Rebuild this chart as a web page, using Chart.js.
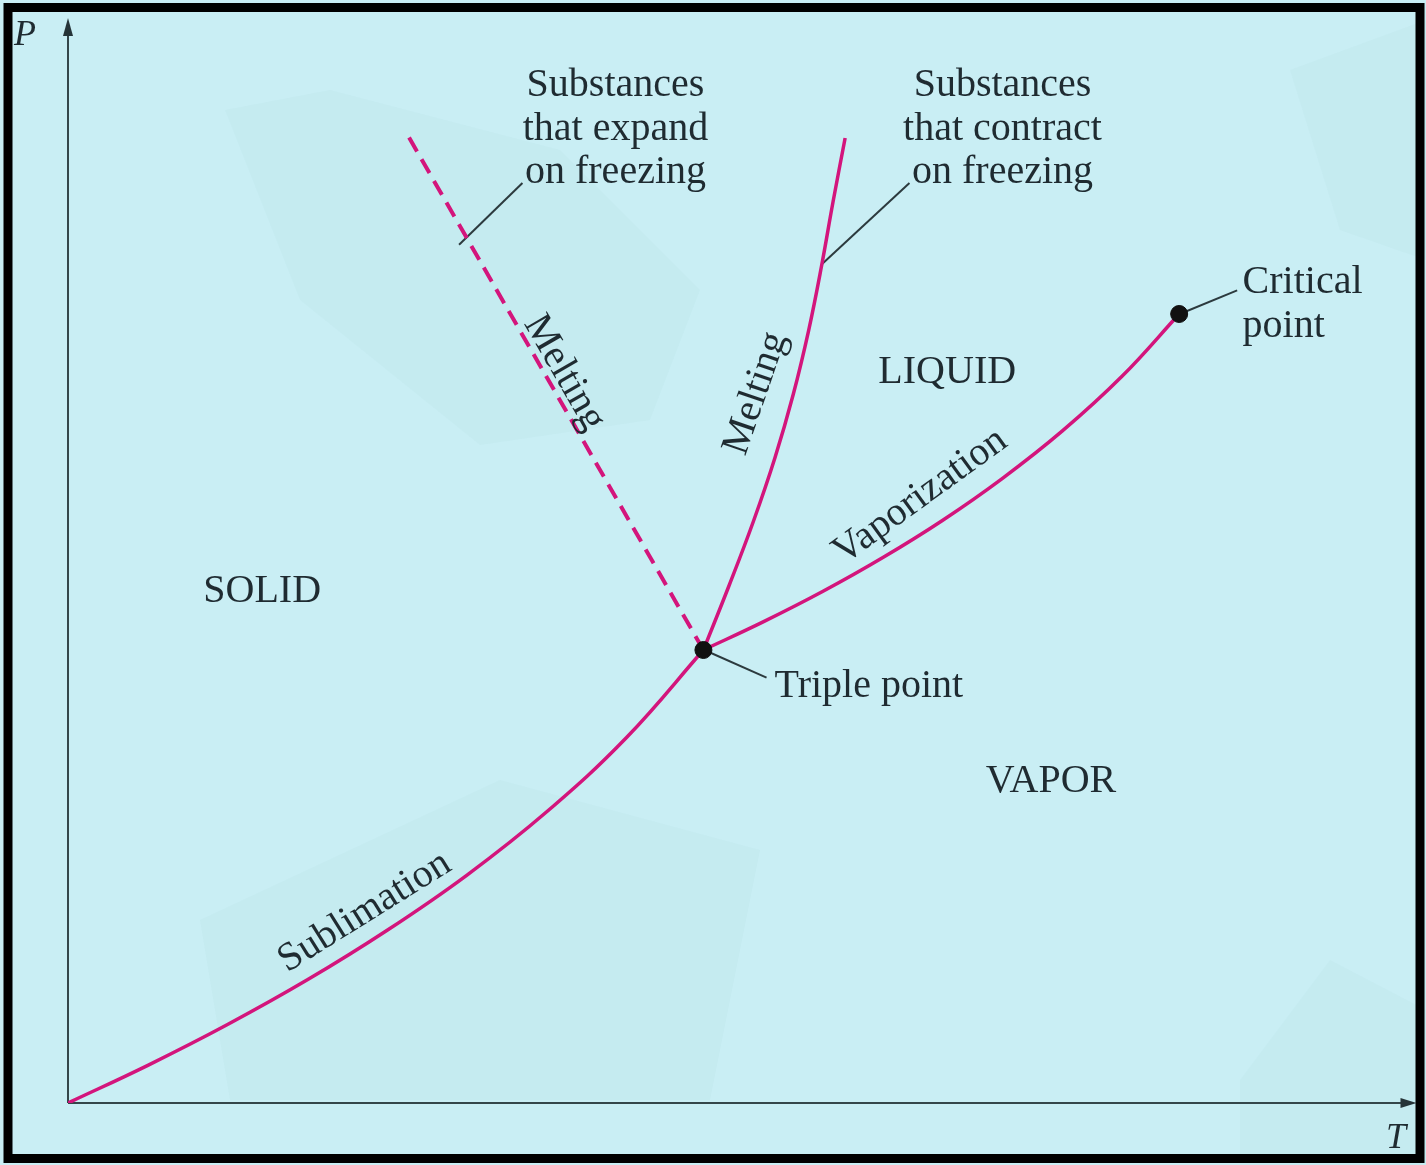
<!DOCTYPE html>
<html>
<head>
<meta charset="utf-8">
<script src="https://cdn.jsdelivr.net/npm/chart.js@4"></script>
<style>
  html, body { margin: 0; padding: 0; background: #c9eef4; }
  canvas { display: block; }
</style>
</head>
<body>
<canvas id="phase" width="1426" height="1165"></canvas>
<script>
// Phase diagram values (T, P in arbitrary units, axes run 0..100)
const sublimationT = [0, 5.92, 11.83, 17.75, 23.67, 29.59, 35.50, 41.42, 47.12];
const sublimationP = [0, 3.47, 7.23, 11.35, 15.92, 21.01, 26.84, 33.69, 41.75];

const meltingT = [47.12, 49.01, 50.81, 52.42, 53.79, 54.93, 55.88, 56.73, 57.63];
const meltingP = [41.75, 47.65, 53.55, 59.45, 65.35, 71.24, 77.14, 83.04, 88.94];

const meltingExpandT = [47.12, 25.1];
const meltingExpandP = [41.75, 89.4];

const vaporizationT = [47.12, 51.55, 55.99, 60.43, 64.87, 69.30, 73.74, 78.18, 82.40];
const vaporizationP = [41.75, 44.34, 47.16, 50.27, 53.71, 57.57, 61.94, 67.00, 72.72];

const specialT = [47.12, 82.40];   // triple point, critical point
const specialP = [41.75, 72.72];

// leader lines [fromT, fromP, toT, toP]
const leaders = [
    [29.0, 79.1, 33.7, 84.8],
    [55.9, 77.3, 62.4, 84.8],
    [82.4, 72.7, 86.7, 74.9],
    [47.1, 41.8, 51.8, 39.2],
];

const curveColor = '#d3157c';
const inkColor = '#1f2b31';
const font = '40px "Liberation Serif", "DejaVu Serif", serif';

const toPoints = (xs, ys) => xs.map((x, i) => ({ x: x, y: ys[i] }));

// text labels: [text, T, P, align]
const labels = [
    ['Substances', 40.6, 92.8, 'center'],
    ['that expand', 40.6, 88.8, 'center'],
    ['on freezing', 40.6, 84.8, 'center'],
    ['Substances', 69.3, 92.8, 'center'],
    ['that contract', 69.3, 88.8, 'center'],
    ['on freezing', 69.3, 84.8, 'center'],
    ['Critical', 87.1, 74.7, 'left'],
    ['point', 87.1, 70.6, 'left'],
    ['LIQUID', 65.2, 66.4, 'center'],
    ['SOLID', 14.4, 46.2, 'center'],
    ['VAPOR', 72.9, 28.7, 'center'],
    ['Triple point', 52.4, 37.4, 'left'],
];
// labels along the curves: [text, T, P, rotation in degrees]
const curveLabels = [
    ['Melting', 36.8, 67.3, 60],
    ['Melting', 51.0, 65.4, -71],
    ['Vaporization', 63.2, 55.9, -36],
    ['Sublimation', 22.0, 17.6, -32],
];

const backdrop = {
    id: 'backdrop',
    beforeDraw(chart) {
        const ctx = chart.ctx;
        ctx.save();
        ctx.fillStyle = '#c9eef4';
        ctx.fillRect(0, 0, chart.width, chart.height);
        // faint patches from the scanned figure
        ctx.fillStyle = 'rgba(150, 200, 210, 0.08)';
        const patches = [
            [[225, 110], [330, 90], [560, 150], [700, 290], [650, 420], [480, 445], [300, 300]],
            [[200, 920], [500, 780], [760, 850], [710, 1100], [230, 1100]],
            [[1290, 70], [1426, 20], [1426, 260], [1340, 230]],
            [[1240, 1080], [1330, 960], [1426, 1010], [1426, 1165], [1240, 1165]],
        ];
        patches.forEach((poly) => {
            ctx.beginPath();
            poly.forEach((p, i) => i ? ctx.lineTo(p[0], p[1]) : ctx.moveTo(p[0], p[1]));
            ctx.closePath();
            ctx.fill();
        });
        ctx.restore();
    },
    beforeDatasetsDraw(chart) {
        const ctx = chart.ctx;
        const a = chart.chartArea;
        const x0 = chart.scales.x.getPixelForValue(0);
        const y0 = chart.scales.y.getPixelForValue(0);
        ctx.save();
        ctx.strokeStyle = '#34464a';
        ctx.fillStyle = '#263438';
        ctx.lineWidth = 2;
        ctx.beginPath();
        ctx.moveTo(x0, y0);
        ctx.lineTo(x0, a.top + 12);
        ctx.moveTo(x0, y0);
        ctx.lineTo(a.right - 12, y0);
        ctx.stroke();
        // arrow heads
        ctx.beginPath();
        ctx.moveTo(x0, a.top);
        ctx.lineTo(x0 - 5, a.top + 18);
        ctx.lineTo(x0 + 5, a.top + 18);
        ctx.closePath();
        ctx.fill();
        ctx.beginPath();
        ctx.moveTo(a.right, y0);
        ctx.lineTo(a.right - 16, y0 - 5);
        ctx.lineTo(a.right - 16, y0 + 5);
        ctx.closePath();
        ctx.fill();
        ctx.restore();
    },
    afterDraw(chart) {
        const ctx = chart.ctx;
        const sx = chart.scales.x, sy = chart.scales.y;
        ctx.save();
        ctx.fillStyle = inkColor;
        ctx.font = font;
        ctx.textBaseline = 'alphabetic';
        labels.forEach(([text, t, p, align]) => {
            ctx.textAlign = align;
            ctx.fillText(text, sx.getPixelForValue(t), sy.getPixelForValue(p));
        });
        ctx.textAlign = 'center';
        ctx.textBaseline = 'middle';
        curveLabels.forEach(([text, t, p, deg]) => {
            ctx.save();
            ctx.translate(sx.getPixelForValue(t), sy.getPixelForValue(p));
            ctx.rotate(deg * Math.PI / 180);
            ctx.fillText(text, 0, 0);
            ctx.restore();
        });
        // axis letters
        ctx.font = 'italic 36px "Liberation Serif", "DejaVu Serif", serif';
        ctx.textAlign = 'left';
        ctx.textBaseline = 'alphabetic';
        ctx.fillText('P', 14, 45);
        ctx.fillText('T', 1386, 1148);
        // black frame
        ctx.strokeStyle = '#000';
        ctx.lineWidth = 9;
        ctx.strokeRect(8, 7.5, 1412, 1151);
        ctx.restore();
    }
};

const line = (pts, extra) => Object.assign({
    data: pts,
    showLine: true,
    borderColor: curveColor,
    borderWidth: 3.5,
    pointRadius: 0,
    tension: 0.4,
    fill: false,
    order: 1,
}, extra);

new Chart(document.getElementById('phase'), {
    type: 'scatter',
    plugins: [backdrop],
    data: {
        datasets: [
            ...leaders.map((l) => line([{ x: l[0], y: l[1] }, { x: l[2], y: l[3] }], {
                borderColor: '#2c3a3e', borderWidth: 2, tension: 0, order: 2,
            })),
            line(toPoints(sublimationT, sublimationP), { label: 'Sublimation' }),
            line(toPoints(meltingT, meltingP), { label: 'Melting' }),
            line(toPoints(meltingExpandT, meltingExpandP), { label: 'Melting (expand)', borderDash: [16, 9], borderWidth: 4, tension: 0 }),
            line(toPoints(vaporizationT, vaporizationP), { label: 'Vaporization' }),
            {
                label: 'Points',
                data: toPoints(specialT, specialP),
                showLine: false,
                pointRadius: 8.5,
                pointBackgroundColor: '#111',
                pointBorderColor: '#111',
                order: 0,
            },
        ],
    },
    options: {
        responsive: false,
        animation: false,
        layout: { padding: { left: 68, right: 6, top: 18, bottom: 62 } },
        plugins: {
            legend: { display: false },
            tooltip: { enabled: false },
        },
        scales: {
            x: { type: 'linear', min: 0, max: 100, display: false },
            y: { type: 'linear', min: 0, max: 100, display: false },
        },
    },
});
</script>
</body>
</html>
